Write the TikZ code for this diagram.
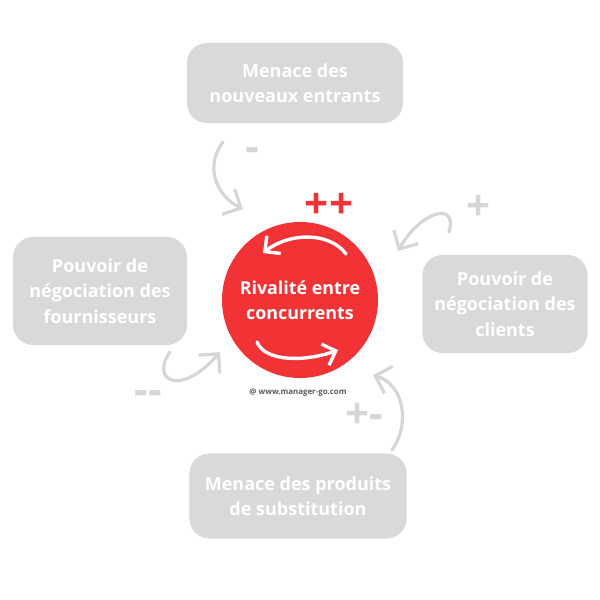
\documentclass[tikz,border=0pt]{standalone}
\usepackage{fontspec}
\setmainfont{Open Sans}
\usepackage{tikz}
\usepackage{xcolor}
\usetikzlibrary{arrows.meta}

\definecolor{boxgray}{HTML}{D9D9D9}
\definecolor{curvegray}{HTML}{D6D6D6}
\definecolor{rivalred}{HTML}{F23336}

\begin{document}
\begin{tikzpicture}[x=0.025cm, y=-0.025cm,
  force/.style={fill=boxgray, rounded corners=0.5cm, align=center, text=white,
    font=\bfseries\fontsize{12.8}{18}\selectfont},
  sign/.style={text=curvegray, font=\bfseries\fontsize{30}{30}\selectfont},
  curve/.style={draw=curvegray, line width=2.3pt, line cap=round,
    -{Straight Barb[length=10pt, width=20pt]}},
  turn/.style={draw=white, line width=2.4pt, line cap=round,
    -{Straight Barb[length=8pt, width=16pt]}}]
\useasboundingbox (0,0) rectangle (600,600);

\node[force, minimum width=5.4cm, minimum height=2cm] (entrants) at (295,83) {Menace des\\nouveaux entrants};
\node[force, minimum width=4.35cm, minimum height=2.7cm] (fournisseurs) at (100,291) {Pouvoir de\\négociation des\\fournisseurs};
\node[force, minimum width=4.125cm, minimum height=2.45cm] (clients) at (505,304) {Pouvoir de\\négociation des\\clients};
\node[force, minimum width=5.425cm, minimum height=2.125cm] (substituts) at (298,496) {Menace des produits\\de substitution};

\node[circle, fill=rivalred, minimum size=3.9cm, align=center, text=white,
  font=\bfseries\fontsize{12.7}{18}\selectfont] (rivalite) at (300,300) {Rivalité entre\\concurrents};

% signes
\node[sign] (s1) at (252,155) {-};
\node[sign, text=rivalred] (s2) at (329,206) {++};
\node[sign] (s3) at (479,208) {+};
\node[sign] (s4) at (148,398) {-{}-};
\node[sign] (s5) at (364,416) {+-};

\node[text=black!65, font=\bfseries\fontsize{5.6}{6}\selectfont] (site) at (298,393) {@ www.manager-go.com};

% fleches
\coordinate (c1) at (223,142);
\coordinate (c2) at (449,232);
\coordinate (c3) at (170,352);
\coordinate (c4) at (392,450);
\draw[curve] (c1) .. controls (205,165) and (215,195) .. (243,209);
\draw[curve] (c2) .. controls (458,200) and (420,212) .. (398,251);
\draw[curve] (c3) .. controls (150,380) and (180,398) .. (220,352);
\draw[curve] (c4) .. controls (410,425) and (405,385) .. (373,375);

\coordinate (r1) at (346,254);
\coordinate (r2) at (257,342);
\draw[turn] (r1) .. controls (330,232) and (290,232) .. (263,253);
\draw[turn] (r2) .. controls (265,362) and (305,362) .. (338,350);
\end{tikzpicture}
\end{document}
